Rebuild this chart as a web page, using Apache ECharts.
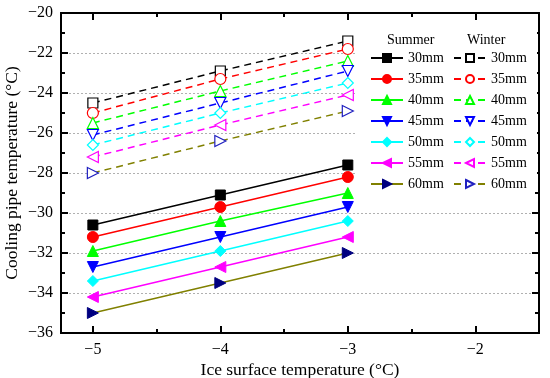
<!DOCTYPE html>
<html>
<head>
<meta charset="utf-8">
<script src="https://cdn.jsdelivr.net/npm/echarts@6/dist/echarts.min.js"></script>
<style>html,body{margin:0;padding:0;background:#fff}#c{width:550px;height:378px}</style>
</head>
<body>
<div id="c"></div>
<script>
var iceTemps = [-5, -4, -3];
var thicknesses = ['30mm', '35mm', '40mm', '45mm', '50mm', '55mm', '60mm'];
var summer30 = [-30.6, -29.1, -27.6];
var summer35 = [-31.2, -29.7, -28.2];
var summer40 = [-31.9, -30.4, -29.0];
var summer45 = [-32.7, -31.2, -29.7];
var summer50 = [-33.4, -31.9, -30.4];
var summer55 = [-34.2, -32.7, -31.2];
var summer60 = [-35.0, -33.5, -32.0];
var winter30 = [-24.5, -22.9, -21.4];
var winter35 = [-25.0, -23.3, -21.8];
var winter40 = [-25.5, -23.9, -22.4];
var winter45 = [-26.1, -24.5, -22.9];
var winter50 = [-26.6, -25.0, -23.5];
var winter55 = [-27.2, -25.6, -24.1];
var winter60 = [-28.0, -26.4, -24.9];
var xMajorTicks = [-5, -4, -3, -2];
var xMinorTicks = [-4.5, -3.5, -2.5];

var summerData = [summer30, summer35, summer40, summer45, summer50, summer55, summer60];
var winterData = [winter30, winter35, winter40, winter45, winter50, winter55, winter60];
var lineColors = ['#000000', '#ff0000', '#00ff00', '#0000ff', '#00ffff', '#ff00ff', '#808000'];
var markColors = ['#000000', '#ff0000', '#00ff00', '#0000ff', '#00ffff', '#ff00ff', '#000080'];
var winterMarkColors = ['#000000', '#ff0000', '#00ff00', '#0000ff', '#00ffff', '#ff00ff', '#2020c0'];
var symbols = ['rect', 'circle', 'triangle',
  'path://M0,0 L10,0 L5,9 Z', 'diamond',
  'path://M0,5 L9,0 L9,10 Z', 'path://M0,0 L9,5 L0,10 Z'];
var symSizes = [10, 11, 11, 11, 11, 11, 11];

function pts(arr) { return iceTemps.map(function (x, i) { return [x, arr[i]]; }); }
function minus(v) { return String(v).replace('-', '\u2212'); }

var FONT = '"Liberation Serif", "Times New Roman", serif';
var series = [];
thicknesses.forEach(function (t, i) {
  series.push({
    name: 'Summer ' + t, type: 'line', data: pts(summerData[i]),
    symbol: symbols[i], symbolSize: symSizes[i],
    lineStyle: { color: lineColors[i], width: 1.5 },
    itemStyle: { color: markColors[i], borderColor: markColors[i], borderWidth: 1 },
    z: 3
  });
});
thicknesses.forEach(function (t, i) {
  series.push({
    name: 'Winter ' + t, type: 'line', data: pts(winterData[i]),
    symbol: symbols[i], symbolSize: symSizes[i],
    lineStyle: { color: lineColors[i], width: 1.5, type: [7, 5] },
    itemStyle: { color: '#ffffff', borderColor: winterMarkColors[i], borderWidth: 1.2 },
    z: 3
  });
});

var axisLine = { show: true, lineStyle: { color: '#000', width: 2 } };
function xAx(pos, ticks, len, labels) {
  return {
    type: 'value', position: pos, min: -5.25, max: -1.5,
    axisLine: axisLine,
    axisTick: { show: true, inside: true, length: len, customValues: ticks, lineStyle: { color: '#000', width: 2 } },
    axisLabel: labels ? { show: true, customValues: xMajorTicks, formatter: minus, color: '#000', fontFamily: FONT, fontSize: 16, margin: 9 } : { show: false },
    splitLine: { show: false }
  };
}
var xAxes = [
  xAx('bottom', xMajorTicks, 7, true),
  xAx('bottom', xMinorTicks, 4, false),
  xAx('top', xMajorTicks, 7, false),
  xAx('top', xMinorTicks, 4, false)
];
xAxes[0].name = 'Ice surface temperature (\u00B0C)';
xAxes[0].nameLocation = 'middle';
xAxes[0].nameGap = 28;
xAxes[0].nameMoveOverlap = false;
xAxes[0].nameTextStyle = { color: '#000', fontFamily: FONT, fontSize: 17.5 };

function yAx(pos, labels) {
  return {
    type: 'value', position: pos, min: -36, max: -20, interval: 2,
    axisLine: axisLine,
    axisTick: { show: true, inside: true, length: 7, lineStyle: { color: '#000', width: 2 } },
    minorTick: { show: true, splitNumber: 2, length: 4, lineStyle: { color: '#000', width: 2 } },
    axisLabel: labels ? { show: true, formatter: minus, color: '#000', fontFamily: FONT, fontSize: 16, margin: 8 } : { show: false },
    splitLine: { show: labels, lineStyle: { color: '#b0b0b0', type: [2, 2], width: 1 } }
  };
}
var yAxes = [yAx('left', true), yAx('right', false)];
yAxes[0].name = 'Cooling pipe temperature (\u00B0C)';
yAxes[0].nameLocation = 'middle';
yAxes[0].nameGap = 40;
yAxes[0].nameMoveOverlap = false;
yAxes[0].nameTextStyle = { color: '#000', fontFamily: FONT, fontSize: 17.5 };

function legend(names, left) {
  return {
    data: names, orient: 'vertical', left: left, top: 51,
    itemWidth: 32, itemHeight: 10, itemGap: 7,
    textStyle: { color: '#000', fontFamily: FONT, fontSize: 14 },
    formatter: function (n) { return n.split(' ')[1]; },
    selectedMode: false, padding: 0, z: 5
  };
}

var option = {
  animation: false,
  backgroundColor: '#fff',
  grid: { left: 61, right: 11, top: 13, bottom: 45, outerBoundsMode: 'none', containLabel: false },
  xAxis: xAxes,
  yAxis: yAxes,
  legend: [
    legend(thicknesses.map(function (t) { return 'Summer ' + t; }), 370),
    legend(thicknesses.map(function (t) { return 'Winter ' + t; }), 453)
  ],
  graphic: [
    { type: 'rect', left: 356, top: 24, shape: { width: 181, height: 155 }, style: { fill: '#fff' }, z: 4 },
    { type: 'text', left: 387, top: 33, style: { text: 'Summer', fill: '#000', font: '14px ' + FONT }, z: 5 },
    { type: 'text', left: 467, top: 33, style: { text: 'Winter', fill: '#000', font: '14px ' + FONT }, z: 5 }
  ],
  series: series
};
echarts.init(document.getElementById('c')).setOption(option);
</script>
</body>
</html>
